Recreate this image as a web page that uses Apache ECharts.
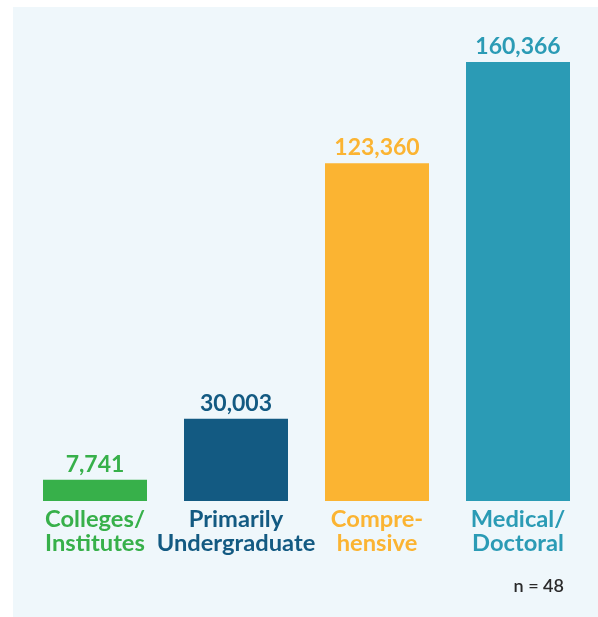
<!DOCTYPE html>
<html><head><meta charset="utf-8">
<script src="https://cdn.jsdelivr.net/npm/echarts@6/dist/echarts.min.js"></script>
<style>html,body{margin:0;padding:0;background:#fff}#c{width:598px;height:617px}</style>
</head><body><div id="c"></div>
<script>
const categories = ['Colleges/\nInstitutes', 'Primarily\nUndergraduate', 'Compre-\nhensive', 'Medical/\nDoctoral'];
const values = [7741, 30003, 123360, 160366];
const colors = ['#37b04a', '#135a82', '#fbb432', '#2b9bb5'];
const note = 'n = 48';

const chart = echarts.init(document.getElementById('c'), null, {renderer: 'canvas'});
chart.setOption({
  animation: false,
  graphic: [
    {type: 'rect', z: -10, shape: {x: 13, y: 7, width: 600, height: 620}, style: {fill: '#eff7fb'}},
    {type: 'text', right: 34, top: 577, style: {text: note, font: '600 18px Lato', fill: '#2a2a2a'}}
  ],
  grid: {left: 24.5, width: 564, top: 62, bottom: 116},
  xAxis: {
    type: 'category', data: categories,
    axisLine: {show: false}, axisTick: {show: false},
    axisLabel: {
      interval: 0, margin: 6, lineHeight: 24,
      fontFamily: 'Lato', fontWeight: 'bold', fontSize: 23.7,
      color: (v, i) => colors[i]
    }
  },
  yAxis: {type: 'value', min: 0, max: 160366, show: false, splitLine: {show: false}},
  series: [{
    type: 'bar', barWidth: 104,
    data: values.map((v, i) => ({value: v, itemStyle: {color: colors[i]}, label: {color: colors[i]}})),
    label: {
      show: true, position: 'top', distance: 4,
      fontFamily: 'Lato', fontWeight: 'bold', fontSize: 23,
      formatter: p => p.value.toLocaleString('en-US')
    }
  }]
});
</script></body></html>
